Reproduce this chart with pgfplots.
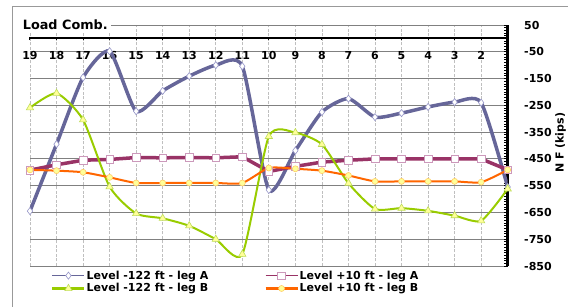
\documentclass[border=0pt]{standalone}
\usepackage{pgfplots}
\pgfplotsset{compat=1.18}
\usepackage{fontspec}
\setmainfont{DejaVu Sans}
\definecolor{cblue}{RGB}{102,102,153}
\definecolor{cblueedge}{RGB}{150,150,200}
\definecolor{cmaroon}{RGB}{153,51,102}
\definecolor{cmaroonedge}{RGB}{204,153,187}
\definecolor{cgreen}{RGB}{153,204,0}
\definecolor{cgreenedge}{RGB}{190,220,90}
\definecolor{corange}{RGB}{255,102,0}
\definecolor{corangeedge}{RGB}{255,204,102}
\definecolor{cyellow}{RGB}{255,255,153}
\pgfplotstableread{
x  a122  a10  b122  b10
19 -645  -492 -259  -491
18 -395  -472 -205  -494
17 -146  -455 -304  -500
16 -48   -452 -554  -519
15 -272  -445 -654  -540
14 -196  -446 -672  -540
13 -141  -445 -700  -540
12 -100  -446 -750  -540
11 -104  -442 -806  -540
10 -566  -497 -366  -484
9  -419  -478 -352  -487
8  -275  -462 -396  -494
7  -225  -455 -541  -512
6  -294  -450 -637  -534
5  -279  -450 -634  -534
4  -256  -450 -644  -534
3  -238  -450 -662  -534
2  -240  -450 -681  -537
1  -555  -491 -562  -491
}\datatable
\begin{document}
\begin{tikzpicture}[x=1pt,y=1pt]
\useasboundingbox (0,0) rectangle (568,-307);
\draw[color=black!40, line width=0.8pt] (12.5,-400) |- (700,-6.7);
\begin{axis}[
  at={(30pt,-266pt)}, anchor=south west,
  scale only axis, width=477.7pt, height=241pt,
  xmin=1, xmax=19, x dir=reverse,
  ymin=-850, ymax=50,
  axis x line*=middle, axis y line*=right,
  x axis line style={-, line width=2pt, black},
  y axis line style={-, line width=2.6pt, black},
  xtick={2,...,19},
  ytick={-850,-750,...,50},
  minor y tick num=9,
  y tick style={black, line width=0.8pt},
  x tick style={black, line width=1pt},
  xtick align=center, ytick align=inside,
  major tick length=3.5pt, minor tick length=3.5pt,
  xmajorgrids, ymajorgrids,
  x grid style={dash pattern=on 3pt off 1.5pt, color=black!25, line width=0.8pt},
  y grid style={color=black!50, line width=0.8pt},
  /pgf/number format/assume math mode=true,
  tick label style={font=\fontsize{11}{13}\selectfont\bfseries},
  xticklabel style={yshift=-8pt},
  yticklabel style={xshift=13pt},
  legend columns=2,
  legend cell align=left,
  legend style={at={(0,0)}, anchor=north west, xshift=18pt, yshift=-1.5pt,
    draw=none, fill=none, font=\fontsize{11}{13}\selectfont\bfseries,
    nodes={inner sep=1pt}, row sep=1pt,
    /tikz/column 2/.style={column sep=55pt}},
]
\addplot[cblue, line width=3.5pt, smooth, tension=0.38, mark=diamond*, mark size=3.6pt,
  mark options={fill=white, draw=cblueedge, line width=0.6pt},
  legend image code/.code={\draw[cblue, line width=0.8pt] (0pt,0pt) -- (32pt,0pt);
    \draw[fill=white, draw=cblueedge, line width=0.6pt] (16pt,3.6pt) -- (18.7pt,0pt) -- (16pt,-3.6pt) -- (13.3pt,0pt) -- cycle;}]
  table[x=x, y=a122] {\datatable};
\addlegendentry{Level -122 ft - leg A}
\addplot[cmaroon, line width=3.5pt, mark=square*, mark size=3.8pt,
  mark options={fill=white, draw=cmaroonedge, line width=0.6pt},
  legend image code/.code={\draw[cmaroon, line width=0.8pt] (0pt,0pt) -- (32pt,0pt);
    \draw[fill=white, draw=cmaroonedge, line width=0.6pt] (12.2pt,-3.8pt) rectangle (19.8pt,3.8pt);}]
  table[x=x, y=a10] {\datatable};
\addlegendentry{Level +10 ft - leg A}
\addplot[cgreen, line width=2pt, smooth, tension=0.38, mark=triangle*, mark size=4.2pt,
  mark options={fill=cyellow, draw=cgreenedge, line width=0.6pt},
  legend image code/.code={\draw[cgreen, line width=2.5pt] (0pt,0pt) -- (32pt,0pt);
    \draw[fill=cyellow, draw=cgreenedge, line width=0.6pt] (16pt,4.2pt) -- (19.6pt,-2.1pt) -- (12.4pt,-2.1pt) -- cycle;}]
  table[x=x, y=b122] {\datatable};
\addlegendentry{Level -122 ft - leg B}
\addplot[corange, line width=2pt, smooth, tension=0.38, mark=*, mark size=3pt,
  mark options={fill=cyellow, draw=corangeedge, line width=0.6pt},
  legend image code/.code={\draw[corange, line width=2.2pt] (0pt,0pt) -- (32pt,0pt);
    \draw[fill=cyellow, draw=corangeedge, line width=0.6pt] (16pt,0pt) circle (3pt);}]
  table[x=x, y=b10] {\datatable};
\addlegendentry{Level +10 ft - leg B}
\end{axis}
\node[fill=white, anchor=west, inner sep=3pt, font=\fontsize{12.8}{15}\selectfont\bfseries] at (19.7,-25) {Load Comb.};
\node[rotate=90, anchor=north west, inner sep=0pt, font=\fontsize{11}{13}\selectfont\bfseries] at (555,-173) {N F (kips)};
\end{tikzpicture}
\end{document}
